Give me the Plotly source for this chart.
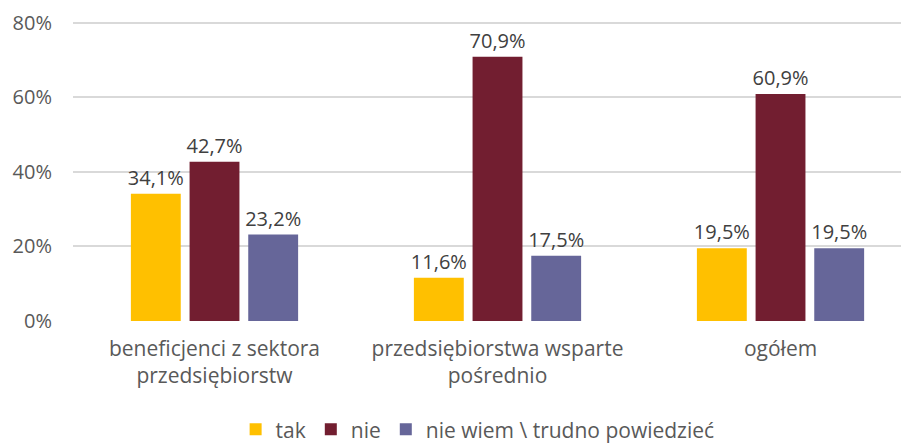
import plotly.graph_objects as go

categories = ["beneficjenci z sektora<br>przedsiębiorstw", "przedsiębiorstwa wsparte<br>pośrednio", "ogółem"]
series_names = ["tak", "nie", "nie wiem \\ trudno powiedzieć"]
tak = [34.1, 11.6, 19.5]
nie = [42.7, 70.9, 60.9]
nie_wiem = [23.2, 17.5, 19.5]
colors = ["#FFC000", "#721E30", "#666699"]
y_ticks = [0, 20, 40, 60, 80]

FONT = "Open Sans"

fig = go.Figure()
for name, vals, col in zip(series_names, [tak, nie, nie_wiem], colors):
    fig.add_trace(go.Bar(
        x=list(range(len(categories))), y=vals, name=name,
        marker=dict(color=col, line=dict(width=0)),
        text=[f"{v:.1f}".replace(".", ",") + "%" for v in vals],
        textposition="outside", cliponaxis=False, constraintext="none",
        textfont=dict(family=FONT, size=20, color="#404040"),
    ))

fig.update_layout(
    width=901, height=435,
    margin=dict(l=65, r=0, t=11, b=122, autoexpand=False),
    paper_bgcolor="white", plot_bgcolor="white",
    barmode="group", bargap=0.378, bargroupgap=0.15,
    font=dict(family=FONT, size=19, color="#595959"),
    showlegend=True,
    legend=dict(orientation="h", x=0.484, xanchor="center", y=-0.36, yanchor="middle",
                font=dict(family=FONT, size=21, color="#595959"), traceorder="normal",
                itemwidth=30),
    xaxis=dict(
        tickmode="array", tickvals=list(range(len(categories))), ticktext=categories,
        range=[-0.5, 2.454], showgrid=False, zeroline=False, showline=False,
        ticks="", ticklabelstandoff=13, automargin=False,
        tickfont=dict(family=FONT, size=21, color="#595959"),
    ),
    yaxis=dict(
        range=[0, 81], tickvals=y_ticks, ticktext=[f"{t}%" for t in y_ticks],
        showgrid=True, gridcolor="#D9D9D9", gridwidth=1.5, zeroline=False,
        showline=False, ticks="", ticklabelstandoff=20, automargin=False,
        tickfont=dict(family=FONT, size=20, color="#595959"),
    ),
)

fig.write_html("out.html")
